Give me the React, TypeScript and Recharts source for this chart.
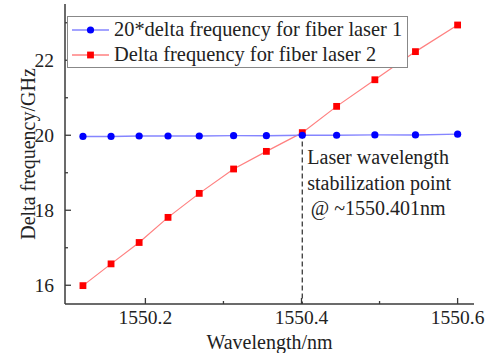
import { Line, LineChart, XAxis, YAxis, ReferenceLine } from "recharts"

const wavelengths = [1550.12, 1550.156, 1550.192, 1550.229, 1550.269, 1550.313, 1550.355, 1550.401, 1550.445, 1550.494, 1550.546, 1550.6]
const laser1 = [19.97, 19.97, 19.98, 19.98, 19.98, 19.99, 19.99, 20.0, 20.0, 20.01, 20.01, 20.03]
const laser2 = [15.99, 16.57, 17.14, 17.81, 18.45, 19.1, 19.57, 20.07, 20.77, 21.48, 22.23, 22.94]
const xTicks = [1550.2, 1550.3, 1550.4, 1550.5, 1550.6]
const yTicks = [16, 17, 18, 19, 20, 21, 22, 23]
const stablePoint = 1550.401
const seriesNames = ["20*delta frequency for fiber laser 1", "Delta frequency for fiber laser 2"]

const data = wavelengths.map((w, i) => ({ w, laser1: laser1[i], laser2: laser2[i] }))

const FONT = '"Liberation Serif", "Times New Roman", serif'
const AXIS = "#3a3a3a"
const BLUE_LINE = "#8585ff"
const RED_LINE = "#ff8080"

const isMajorX = (v: number) => Math.round(v * 10) % 2 === 0
const isMajorY = (v: number) => v % 2 === 0

function BottomTick(props: any) {
  const { x, y, payload } = props
  const major = isMajorX(payload.value)
  return (
    <g>
      <line x1={x} x2={x} y1={y} y2={y - (major ? 6 : 3)} stroke={AXIS} strokeWidth={1.3} />
      {major && (
        <text x={x} y={y + 20} textAnchor="middle" fontSize={19.5} style={{ fontFamily: FONT }} fill="#222">
          {payload.value.toFixed(1)}
        </text>
      )}
    </g>
  )
}

function TopTick(props: any) {
  const { x, y, payload } = props
  const major = isMajorX(payload.value)
  return <line x1={x} x2={x} y1={y} y2={y + (major ? 6 : 3)} stroke={AXIS} strokeWidth={1.3} />
}

function LeftTick(props: any) {
  const { x, y, payload } = props
  const major = isMajorY(payload.value)
  return (
    <g>
      <line x1={x} x2={x + (major ? 6 : 3)} y1={y} y2={y} stroke={AXIS} strokeWidth={1.3} />
      {major && (
        <text x={x - 11} y={y + 7} textAnchor="end" fontSize={19.5} style={{ fontFamily: FONT }} fill="#222">
          {payload.value}
        </text>
      )}
    </g>
  )
}

function RightTick(props: any) {
  const { x, y, payload } = props
  const major = isMajorY(payload.value)
  return <line x1={x} x2={x - (major ? 6 : 3)} y1={y} y2={y} stroke={AXIS} strokeWidth={1.3} />
}

function SquareDot(props: any) {
  const { cx, cy, index } = props
  if (cx == null || cy == null) return null
  return <rect key={`sq-${index}`} x={cx - 3.4} y={cy - 3.4} width={6.8} height={6.8} fill="#ff0000" />
}

function Annotation(props: any) {
  const { viewBox } = props
  const x = viewBox.x + 5
  const y = viewBox.y
  return (
    <text fontSize={20} style={{ fontFamily: FONT }} fill="#222">
      <tspan x={x} y={y + 31}>Laser wavelength</tspan>
      <tspan x={x} y={y + 56.5}>stabilization point</tspan>
      <tspan x={x + 3.5} y={y + 82}>@ ~1550.401nm</tspan>
    </text>
  )
}

function LegendBox() {
  const row = (i: number) => (
    <div key={i} style={{ display: "flex", alignItems: "center", height: 25 }}>
      <svg width={42} height={14} style={{ marginLeft: 4 }}>
        <line x1={0} x2={37} y1={7} y2={7} stroke={i === 0 ? BLUE_LINE : RED_LINE} strokeWidth={1.4} />
        {i === 0 ? (
          <circle cx={18.5} cy={7} r={3.6} fill="#0000ff" />
        ) : (
          <rect x={15.1} y={3.6} width={6.8} height={6.8} fill="#ff0000" />
        )}
      </svg>
      <span style={{ whiteSpace: "nowrap" }}>{seriesNames[i]}</span>
    </div>
  )
  return (
    <div
      style={{
        position: "absolute",
        left: 67,
        top: 16,
        width: 339,
        height: 50,
        border: "1.5px solid #888",
        background: "#fff",
        fontFamily: FONT,
        fontSize: 20.4,
        color: "#222",
        lineHeight: "25px",
      }}
    >
      {row(0)}
      {row(1)}
    </div>
  )
}

export default function App() {
  return (
    <div style={{ position: "fixed", left: 0, top: 0, width: 497, height: 353, background: "#fff", fontFamily: FONT }}>
      <LineChart
        width={497}
        height={353}
        data={data}
        margin={{ top: 4, right: 23, left: 0, bottom: 0 }}
        style={{ fontFamily: FONT }}
      >
        <XAxis
          dataKey="w"
          type="number"
          domain={[1550.097, 1550.621]}
          ticks={xTicks}
          height={49}
          tickSize={0}
          tickMargin={0}
          tickLine={false}
          tick={<BottomTick />}
          stroke={AXIS}
          strokeWidth={1.5}
          interval={0}
          label={{ value: "Wavelength/nm", position: "insideBottom", offset: 4, fontSize: 20, fontFamily: FONT, fill: "#222" }}
        />
        <XAxis
          xAxisId="top"
          dataKey="w"
          type="number"
          orientation="top"
          domain={[1550.097, 1550.621]}
          ticks={xTicks}
          height={0}
          tickSize={0}
          tickMargin={0}
          tickLine={false}
          tick={<TopTick />}
          stroke={AXIS}
          strokeWidth={1.5}
          interval={0}
        />
        <YAxis
          type="number"
          domain={[15.5, 23.5]}
          ticks={yTicks}
          width={65}
          tickSize={0}
          tickMargin={0}
          tickLine={false}
          tick={<LeftTick />}
          stroke={AXIS}
          strokeWidth={1.5}
          interval={0}
          label={{ value: "Delta frequency/GHz", angle: -90, position: "center", dx: -5, fontSize: 20, fontFamily: FONT, fill: "#222" }}
        />
        <YAxis
          yAxisId="right"
          orientation="right"
          type="number"
          domain={[15.5, 23.5]}
          ticks={yTicks}
          width={0}
          tickSize={0}
          tickMargin={0}
          tickLine={false}
          tick={<RightTick />}
          stroke={AXIS}
          strokeWidth={1.5}
          interval={0}
        />
        <ReferenceLine
          segment={[
            { x: stablePoint, y: 20.05 },
            { x: stablePoint, y: 15.5 },
          ]}
          stroke={AXIS}
          strokeWidth={1.3}
          strokeDasharray="5 3"
          label={<Annotation />}
        />
        <Line
          dataKey="laser2"
          name={seriesNames[1]}
          stroke={RED_LINE}
          strokeWidth={1.2}
          dot={<SquareDot />}
          isAnimationActive={false}
        />
        <Line
          dataKey="laser1"
          name={seriesNames[0]}
          stroke={BLUE_LINE}
          strokeWidth={1.5}
          dot={{ r: 3.6, fill: "#0000ff", stroke: "none" }}
          isAnimationActive={false}
        />
      </LineChart>
      <LegendBox />
    </div>
  )
}
